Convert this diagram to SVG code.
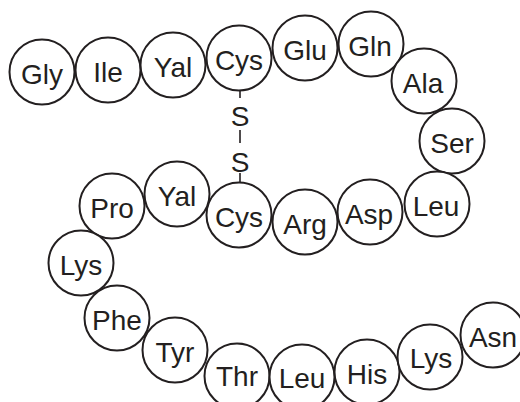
<svg xmlns="http://www.w3.org/2000/svg" width="520" height="402" viewBox="0 0 520 402">
<style>
.res circle{fill:#fff;stroke:#231f20;stroke-width:2}
text{font-family:"Liberation Sans",Arial,sans-serif;font-size:28px;fill:#231f20;text-anchor:middle}
.bond line{stroke:#231f20;stroke-width:1.6}
</style>
<rect width="520" height="402" fill="#fff"/>
<g id="connectors" class="bond">
<line x1="240" y1="91" x2="240" y2="98"/>
<line x1="240" y1="130" x2="240" y2="143"/>
<line x1="240" y1="173" x2="240" y2="183"/>
</g>
<g id="S1"><text x="240" y="126">S</text></g>
<g id="S2"><text x="240" y="172">S</text></g>
<g id="Gly1" class="res"><circle cx="42" cy="72" r="32.5"/><text x="42" y="84">Gly</text></g>
<g id="Ile2" class="res"><circle cx="108" cy="70" r="32.5"/><text x="108" y="82">Ile</text></g>
<g id="Yal3" class="res"><circle cx="173" cy="65" r="32.5"/><text x="173" y="77">Yal</text></g>
<g id="Cys4" class="res"><circle cx="239" cy="58" r="32.5"/><text x="239" y="70">Cys</text></g>
<g id="Glu5" class="res"><circle cx="305" cy="48" r="32.5"/><text x="305" y="60">Glu</text></g>
<g id="Gln6" class="res"><circle cx="371" cy="44" r="32.5"/><text x="370" y="56">Gln</text></g>
<g id="Ala7" class="res"><circle cx="424" cy="81" r="32.5"/><text x="423" y="93">Ala</text></g>
<g id="Ser8" class="res"><circle cx="452" cy="141" r="32.5"/><text x="452" y="153">Ser</text></g>
<g id="Leu9" class="res"><circle cx="437" cy="204" r="32.5"/><text x="436" y="216">Leu</text></g>
<g id="Asp10" class="res"><circle cx="370" cy="212" r="32.5"/><text x="369" y="224">Asp</text></g>
<g id="Arg11" class="res"><circle cx="305" cy="222" r="32.5"/><text x="305" y="234">Arg</text></g>
<g id="Cys12" class="res"><circle cx="239" cy="215" r="32.5"/><text x="239" y="227">Cys</text></g>
<g id="Yal13" class="res"><circle cx="177" cy="194" r="32.5"/><text x="177" y="206">Yal</text></g>
<g id="Pro14" class="res"><circle cx="112" cy="206" r="32.5"/><text x="112" y="218">Pro</text></g>
<g id="Lys15" class="res"><circle cx="81" cy="263" r="32.5"/><text x="81" y="275">Lys</text></g>
<g id="Phe16" class="res"><circle cx="117" cy="318" r="32.5"/><text x="117" y="330">Phe</text></g>
<g id="Tyr17" class="res"><circle cx="175" cy="350" r="32.5"/><text x="175" y="362">Tyr</text></g>
<g id="Thr18" class="res"><circle cx="237" cy="376" r="32.5"/><text x="237" y="386">Thr</text></g>
<g id="Leu19" class="res"><circle cx="302" cy="377" r="32.5"/><text x="302" y="388">Leu</text></g>
<g id="His20" class="res"><circle cx="367" cy="372" r="32.5"/><text x="367" y="384">His</text></g>
<g id="Lys21" class="res"><circle cx="430" cy="357" r="32.5"/><text x="431" y="368">Lys</text></g>
<g id="Asn22" class="res"><circle cx="493" cy="335" r="32.5"/><text x="493" y="347">Asn</text></g>
</svg>
